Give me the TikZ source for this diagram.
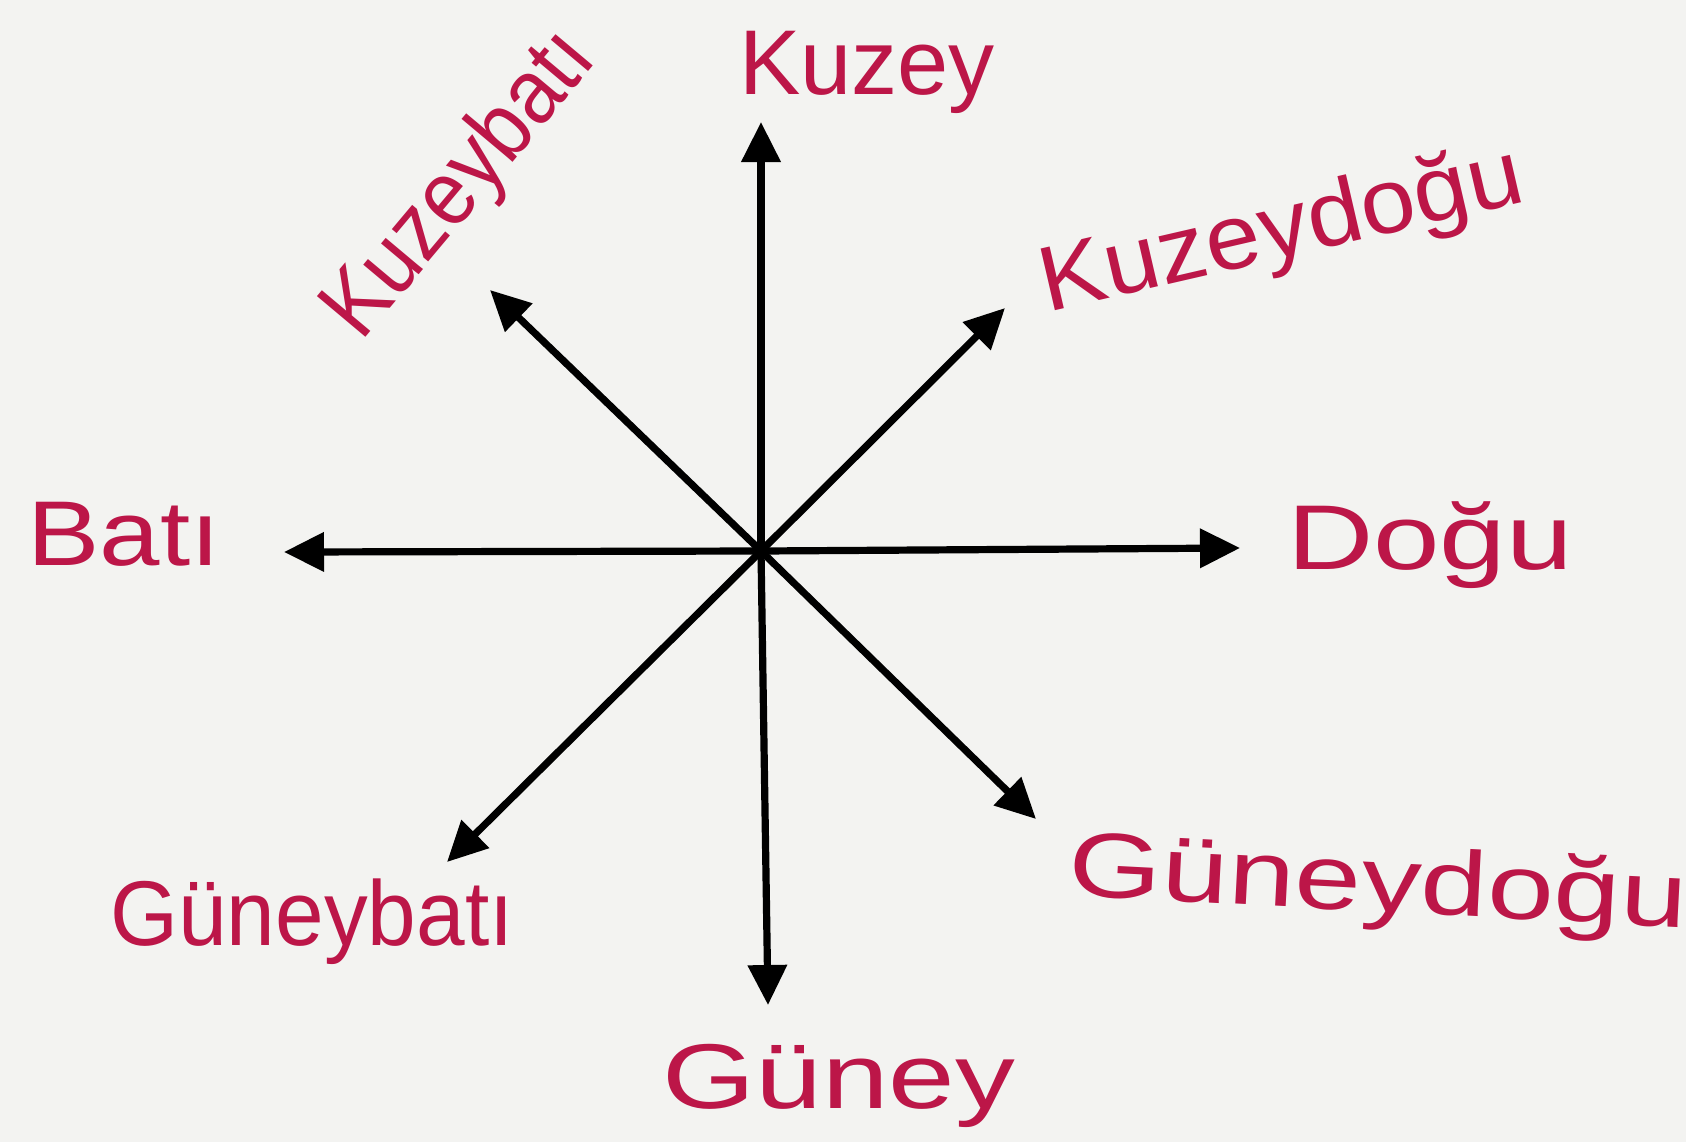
\documentclass[tikz,border=0pt]{standalone}
\usepackage{fontspec}
\usepackage{graphicx}
\setmainfont{Liberation Sans}
\usetikzlibrary{arrows.meta}
\definecolor{ink}{RGB}{188,22,72}
\definecolor{paper}{RGB}{243,243,241}
\begin{document}
\begin{tikzpicture}[x=0.5pt,y=-0.5pt,
  dirarrow/.style={draw=black,line width=3.6pt,-{Triangle[length=20pt,width=19pt]}},
  lbl/.style={text=ink,font=\fontsize{46}{50}\selectfont,inner sep=0pt,anchor=center}]
\fill[paper] (0,0) rectangle (1686,1142);
\useasboundingbox (0,0) rectangle (1686,1142);
\coordinate (O) at (761,551);
\coordinate (N) at (761,122);
\coordinate (S) at (768,1005);
\coordinate (E) at (1240,548);
\coordinate (W) at (284,552);
\coordinate (NE) at (1005,308);
\coordinate (NW) at (490,290);
\coordinate (SE) at (1036,819);
\coordinate (SW) at (447,862);
\foreach \t in {N,S,E,W,NE,NW,SE,SW}{\draw[dirarrow] (O) -- (\t);}
\node[lbl] (kuzey) at (867,72) {Kuzey};
\node[lbl,rotate=50] (kuzeybati) at (462,186) {\scalebox{0.9}[1]{Kuzeybatı}};
\node[lbl,rotate=13] (kuzeydogu) at (1282,233) {\scalebox{1.07}[1]{Kuzeydoğu}};
\node[lbl] (dogu) at (1430,545) {\scalebox{1.3}[1]{Doğu}};
\node[lbl] (bati) at (124,534) {\scalebox{1.18}[1]{Batı}};
\node[lbl] (guneybati) at (312,922) {\scalebox{0.95}[1]{Güneybatı}};
\node[lbl,rotate=-3] (guneydogu) at (1378,887) {\scalebox{1.3}[1]{Güneydoğu}};
\node[lbl] (guney) at (839,1086) {\scalebox{1.3}[1]{Güney}};
\end{tikzpicture}
\end{document}
